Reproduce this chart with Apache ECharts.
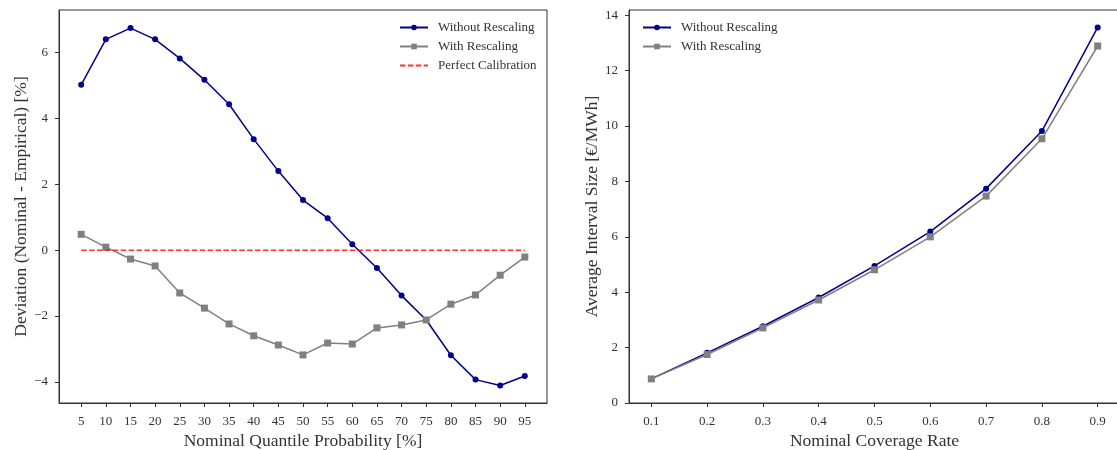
<!DOCTYPE html>
<html>
<head>
<meta charset="utf-8">
<script src="https://cdn.jsdelivr.net/npm/echarts@6/dist/echarts.min.js"></script>
<style>
  html, body { margin: 0; padding: 0; background: #fff; }
  #chart { width: 1117px; height: 450px; }
</style>
</head>
<body>
<div id="chart"></div>
<script>
// left panel: deviation per nominal quantile
var quantiles = [5, 10, 15, 20, 25, 30, 35, 40, 45, 50, 55, 60, 65, 70, 75, 80, 85, 90, 95];
var devWithout = [5.02, 6.4, 6.74, 6.4, 5.82, 5.17, 4.43, 3.37, 2.4, 1.52, 0.97, 0.18, -0.54, -1.38, -2.12, -3.19, -3.93, -4.11, -3.82];
var devWith = [0.48, 0.09, -0.27, -0.48, -1.3, -1.76, -2.24, -2.6, -2.88, -3.18, -2.82, -2.85, -2.36, -2.27, -2.12, -1.64, -1.36, -0.76, -0.21];
var devTicks = [-4, -2, 0, 2, 4, 6];

// right panel: interval size per coverage
var coverage = [0.1, 0.2, 0.3, 0.4, 0.5, 0.6, 0.7, 0.8, 0.9];
var sizeWithout = [0.87, 1.81, 2.77, 3.81, 4.95, 6.19, 7.74, 9.82, 13.56];
var sizeWith = [0.87, 1.75, 2.71, 3.72, 4.81, 6.0, 7.47, 9.54, 12.89];
var sizeTicks = [0, 2, 4, 6, 8, 10, 12, 14];

function pairs(xs, ys) {
  return xs.map(function (x, i) { return [x, ys[i]]; });
}

var FONT = 'Liberation Serif';
var AX = '#333333';
var NAVY = '#00008b';
var GRAY = '#808080';
var RED = 'rgba(255,0,0,0.8)';

// matplotlib style minus sign
function minus(v) { return String(v).replace('-', '\u2212'); }

function xAxisCfg(idx, min, max, ticks, name, fmt) {
  return {
    type: 'value', gridIndex: idx, min: min, max: max,
    name: name, nameLocation: 'middle', nameGap: 26,
    nameTextStyle: { fontFamily: FONT, fontSize: 17.5, color: AX },
    axisLine: { show: true, onZero: false, lineStyle: { color: AX, width: 1 } },
    axisTick: { show: true, length: 4, customValues: ticks, lineStyle: { color: AX } },
    axisLabel: { customValues: ticks, fontFamily: FONT, fontSize: 13, color: AX, margin: 12, formatter: fmt },
    splitLine: { show: false }
  };
}

function yAxisCfg(idx, min, max, ticks, name, gap) {
  return {
    type: 'value', gridIndex: idx, min: min, max: max,
    name: name, nameLocation: 'middle', nameGap: gap,
    nameTextStyle: { fontFamily: FONT, fontSize: 17.5, color: AX },
    axisLine: { show: true, onZero: false, lineStyle: { color: AX, width: 1 } },
    axisTick: { show: true, length: 4, customValues: ticks, lineStyle: { color: AX } },
    axisLabel: { customValues: ticks, fontFamily: FONT, fontSize: 13, color: AX, margin: 11, formatter: minus },
    splitLine: { show: false }
  };
}

var legendText = { fontFamily: FONT, fontSize: 13, color: AX, padding: [0, 0, 0, 5] };

var chart = echarts.init(document.getElementById('chart'), null, { renderer: 'canvas' });

var option = {
  backgroundColor: '#ffffff',
  animation: false,
  grid: [
    { left: 59, top: 10, width: 488, height: 393, show: true, borderColor: AX, borderWidth: 1, outerBoundsMode: 'none' },
    { left: 629, top: 10, width: 491, height: 393, show: true, borderColor: AX, borderWidth: 1, outerBoundsMode: 'none' }
  ],
  xAxis: [
    xAxisCfg(0, 0.5, 99.5, quantiles, 'Nominal Quantile Probability [%]', function (v) { return String(v); }),
    xAxisCfg(1, 0.06, 0.94, coverage, 'Nominal Coverage Rate', function (v) { return v.toFixed(1); })
  ],
  yAxis: [
    yAxisCfg(0, -4.64, 7.29, devTicks, 'Deviation (Nominal - Empirical) [%]', 28),
    yAxisCfg(1, 0, 14.19, sizeTicks, 'Average Interval Size [€/MWh]', 27)
  ],
  legend: [
    {
      left: 399, top: 21, padding: 0, orient: 'vertical', itemWidth: 28, itemHeight: 7, itemGap: 6,
      textStyle: legendText,
      data: ['Without Rescaling', 'With Rescaling', { name: 'Perfect Calibration', itemStyle: { opacity: 0 } }]
    },
    {
      left: 642, top: 21, padding: 0, orient: 'vertical', itemWidth: 28, itemHeight: 7, itemGap: 6,
      textStyle: legendText,
      data: ['Without Rescaling', 'With Rescaling']
    }
  ],
  series: [
    {
      name: 'Without Rescaling', type: 'line', xAxisIndex: 0, yAxisIndex: 0,
      data: pairs(quantiles, devWithout), symbol: 'circle', symbolSize: 6,
      lineStyle: { color: NAVY, width: 1.5 }, itemStyle: { color: NAVY }, z: 3
    },
    {
      name: 'With Rescaling', type: 'line', xAxisIndex: 0, yAxisIndex: 0,
      data: pairs(quantiles, devWith), symbol: 'rect', symbolSize: 7,
      lineStyle: { color: GRAY, width: 1.5 }, itemStyle: { color: GRAY }, z: 4
    },
    {
      name: 'Perfect Calibration', type: 'line', xAxisIndex: 0, yAxisIndex: 0,
      data: pairs([quantiles[0], quantiles[quantiles.length - 1]], [0, 0]), symbol: 'none',
      lineStyle: { color: RED, width: 1.5, type: [5.5, 2.4] },
      itemStyle: { color: RED }, z: 5
    },
    {
      name: 'Without Rescaling', type: 'line', xAxisIndex: 1, yAxisIndex: 1,
      data: pairs(coverage, sizeWithout), symbol: 'circle', symbolSize: 6,
      lineStyle: { color: NAVY, width: 1.5 }, itemStyle: { color: NAVY }, z: 3
    },
    {
      name: 'With Rescaling', type: 'line', xAxisIndex: 1, yAxisIndex: 1,
      data: pairs(coverage, sizeWith), symbol: 'rect', symbolSize: 7,
      lineStyle: { color: GRAY, width: 1.5 }, itemStyle: { color: GRAY }, z: 4
    }
  ]
};

chart.setOption(option);
</script>
</body>
</html>
